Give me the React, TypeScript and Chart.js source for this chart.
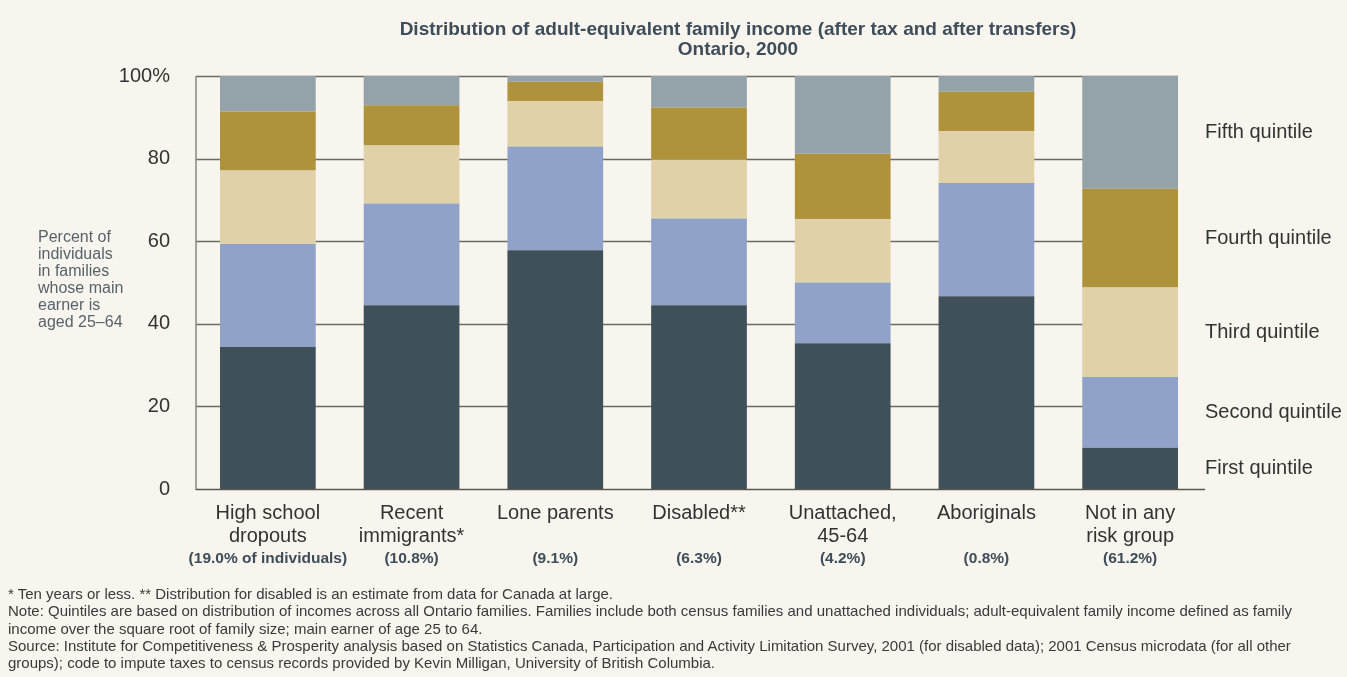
import React, { useEffect, useRef } from "react";
import { Chart, registerables } from "chart.js";

Chart.register(...registerables);

const categories: string[][] = [
  ["High school", "dropouts"],
  ["Recent", "immigrants*"],
  ["Lone parents"],
  ["Disabled**"],
  ["Unattached,", "45-64"],
  ["Aboriginals"],
  ["Not in any", "risk group"],
];
const shares = ["(19.0% of individuals)", "(10.8%)", "(9.1%)", "(6.3%)", "(4.2%)", "(0.8%)", "(61.2%)"];
const quintileNames = ["First quintile", "Second quintile", "Third quintile", "Fourth quintile", "Fifth quintile"];
const firstQuintile = [34.4, 44.5, 57.8, 44.5, 35.3, 46.7, 10.0];
const secondQuintile = [24.9, 24.6, 25.1, 21.0, 14.7, 27.4, 17.1];
const thirdQuintile = [17.8, 14.1, 11.0, 14.2, 15.3, 12.5, 21.7];
const fourthQuintile = [14.3, 9.7, 4.7, 12.7, 15.9, 9.6, 23.9];
const fifthQuintile = [8.6, 7.1, 1.4, 7.6, 18.8, 3.8, 27.3];
const yTicks = [0, 20, 40, 60, 80, 100];
const titleLines = [
  "Distribution of adult-equivalent family income (after tax and after transfers)",
  "Ontario, 2000",
];
const yAxisNote = ["Percent of", "individuals", "in families", "whose main", "earner is", "aged 25–64"];
const footnotes = [
  "* Ten years or less. ** Distribution for disabled is an estimate from data for Canada at large.",
  "Note: Quintiles are based on distribution of incomes across all Ontario families. Families include both census families and unattached individuals; adult-equivalent family income defined as family",
  "income over the square root of family size; main earner of age 25 to 64.",
  "Source: Institute for Competitiveness & Prosperity analysis based on Statistics Canada, Participation and Activity Limitation Survey, 2001 (for disabled data); 2001 Census microdata (for all other",
  "groups); code to impute taxes to census records provided by Kevin Milligan, University of British Columbia.",
];

const seriesValues = [firstQuintile, secondQuintile, thirdQuintile, fourthQuintile, fifthQuintile];
const seriesColors = ["#3f505b", "#90a2c8", "#e0d1a8", "#ae923c", "#94a2aa"];

const BG = "#f8f5ee";
const FONT = "'Liberation Sans', Arial, sans-serif";

const decorPlugin = {
  id: "decor",
  beforeDatasetsDraw(chart: any) {
    const { ctx, chartArea, scales } = chart;
    const y = scales.y;
    const meta = chart.getDatasetMeta(0);
    const last = meta.data[meta.data.length - 1];
    const right = last.x + last.width / 2;
    ctx.save();
    ctx.strokeStyle = "#6d6963";
    ctx.lineWidth = 1.3;
    yTicks.forEach((v) => {
      if (v === 0) return;
      const py = Math.round(y.getPixelForValue(v)) + 0.5;
      ctx.beginPath();
      ctx.moveTo(chartArea.left, py);
      ctx.lineTo(right, py);
      ctx.stroke();
    });
    ctx.strokeStyle = "#8a8680";
    ctx.lineWidth = 1.5;
    ctx.beginPath();
    ctx.moveTo(chartArea.left, chartArea.top);
    ctx.lineTo(chartArea.left, chartArea.bottom + 1);
    ctx.stroke();
    ctx.restore();
  },
  afterDatasetsDraw(chart: any) {
    const { ctx, chartArea, scales } = chart;
    const x = scales.x;
    ctx.save();
    // bottom axis line
    ctx.strokeStyle = "#5a5752";
    ctx.lineWidth = 1.5;
    ctx.beginPath();
    ctx.moveTo(chartArea.left, chartArea.bottom + 0.5);
    ctx.lineTo(chartArea.right + 3, chartArea.bottom + 0.5);
    ctx.stroke();

    // right-side quintile labels beside last bar
    ctx.fillStyle = "#333333";
    ctx.font = `20px ${FONT}`;
    ctx.textAlign = "left";
    ctx.textBaseline = "middle";
    seriesValues.forEach((_, i) => {
      const meta = chart.getDatasetMeta(i);
      const bar = meta.data[meta.data.length - 1];
      const mid = (bar.y + bar.base) / 2;
      ctx.fillText(quintileNames[i], chartArea.right + 3, mid);
    });

    // group shares under category labels
    ctx.fillStyle = "#3e4d5a";
    ctx.font = `bold 15.5px ${FONT}`;
    ctx.textAlign = "center";
    shares.forEach((s, i) => {
      ctx.fillText(s, x.getPixelForValue(i), 559);
    });

    // title
    ctx.font = `bold 19px ${FONT}`;
    ctx.fillText(titleLines[0], 738, 30);
    ctx.fillText(titleLines[1], 738, 50);

    // y axis note
    ctx.fillStyle = "#58626b";
    ctx.font = `16px ${FONT}`;
    ctx.textAlign = "left";
    yAxisNote.forEach((line, i) => {
      ctx.fillText(line, 38, 238 + i * 17);
    });
    ctx.restore();
  },
};

export default function App() {
  const canvasRef = useRef<HTMLCanvasElement | null>(null);

  useEffect(() => {
    const canvas = canvasRef.current;
    if (!canvas) return;
    const chart = new Chart(canvas, {
      type: "bar",
      data: {
        labels: categories,
        datasets: seriesValues.map((vals, i) => ({
          label: quintileNames[i],
          data: vals,
          backgroundColor: seriesColors[i],
          borderWidth: 0,
          categoryPercentage: 1,
          barPercentage: 0.666,
        })),
      },
      options: {
        responsive: false,
        animation: false,
        devicePixelRatio: 1,
        layout: { padding: { top: 76, right: 145, left: 0, bottom: 0 } },
        plugins: {
          legend: { display: false },
          tooltip: { enabled: false },
          title: { display: false },
        },
        scales: {
          x: {
            stacked: true,
            grid: { display: false, drawTicks: false },
            border: { display: false },
            ticks: {
              color: "#333333",
              font: { family: FONT, size: 20, lineHeight: 1.15 },
              padding: 13,
              maxRotation: 0,
              autoSkip: false,
            },
            afterFit: (s: any) => {
              s.height = 677 - 489;
            },
          },
          y: {
            stacked: true,
            min: 0,
            max: 100,
            grid: { display: false, drawTicks: false },
            border: { display: false },
            ticks: {
              stepSize: 20,
              color: "#333333",
              font: { family: FONT, size: 20 },
              padding: 26,
              callback: (v: any) => (v === 100 ? "100%" : String(v)),
            },
            afterFit: (s: any) => {
              s.width = 196;
            },
          },
        },
      },
      plugins: [decorPlugin],
    });
    return () => chart.destroy();
  }, []);

  return (
    <div
      style={{
        position: "fixed",
        left: 0,
        top: 0,
        width: 1347,
        height: 677,
        background: BG,
        overflow: "hidden",
      }}
    >
      <canvas ref={canvasRef} width={1347} height={677} style={{ display: "block" }} />
      <div
        style={{
          position: "absolute",
          left: 8,
          top: 585,
          fontFamily: FONT,
          fontSize: 15,
          lineHeight: "17.3px",
          color: "#3a3a3a",
          whiteSpace: "nowrap",
        }}
      >
        {footnotes.map((f, i) => (
          <div key={i}>{f}</div>
        ))}
      </div>
    </div>
  );
}
